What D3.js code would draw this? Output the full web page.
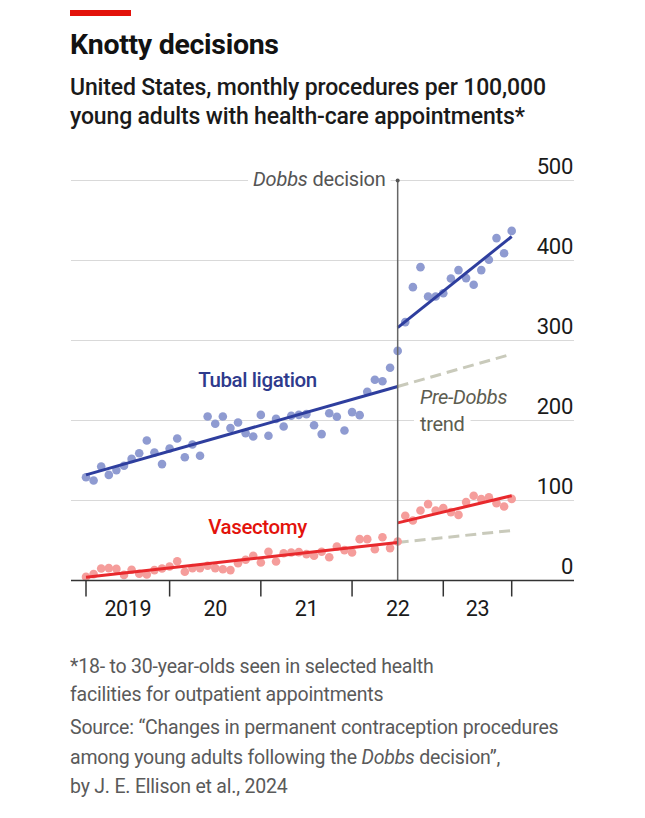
<!DOCTYPE html>
<html><head><meta charset="utf-8">
<script src="https://cdn.jsdelivr.net/npm/d3@7"></script>
<style>
html,body{margin:0;padding:0;background:#fff;}
svg text{font-family:Roboto,"Noto Sans",sans-serif;}
</style></head>
<body><div id="chart"></div>
<script>
const months = ["2019-01","2019-02","2019-03","2019-04","2019-05","2019-06","2019-07","2019-08","2019-09","2019-10","2019-11","2019-12",
"2020-01","2020-02","2020-03","2020-04","2020-05","2020-06","2020-07","2020-08","2020-09","2020-10","2020-11","2020-12",
"2021-01","2021-02","2021-03","2021-04","2021-05","2021-06","2021-07","2021-08","2021-09","2021-10","2021-11","2021-12",
"2022-01","2022-02","2022-03","2022-04","2022-05","2022-06","2022-07","2022-08","2022-09","2022-10","2022-11","2022-12",
"2023-01","2023-02","2023-03","2023-04","2023-05","2023-06","2023-07","2023-08","2023-09"];
const tubal = [129,125,142.5,132,138,143.5,152,159,175,160,145.5,165,177.5,154,170,156,205,196,205,190.5,197.5,184,180,207,181,202,192.5,206,207,208,194,183,209,204.6,187.5,210.5,206.7,236,251,249,266,287,
323,366.7,391.7,355,355,359,377.5,388,378,369.6,388,401,428,409,437];
const vasectomy = [4.5,8,15,15.5,14.5,7,13.5,8.5,7.5,13,15,17.5,24,11,15.5,15.5,18.4,15.5,14,13,21.7,26,30.9,22.5,36,23.7,34,35,35.5,33,31,36,29,42.5,38,35,51.7,51.7,39,54,40.5,48.7,
81,75,87.5,95.5,87.5,90.5,85.5,82,98,106,101.7,104,96.7,92.5,102];
// fitted trend end-points [start month, end month, start value, end value]
const tubalFitPre = ["2019-01","2022-06",132,242.5];
const tubalFitPost = ["2022-06","2023-09",316,430];
const tubalPreTrend = ["2022-06","2023-09",242.5,283];
const vasFitPre = ["2019-01","2022-06",4,47.5];
const vasFitPost = ["2022-06","2023-09",72,106];
const vasPreTrend = ["2022-06","2023-09",47.5,62.5];
const dobbsMonth = "2022-06";
const yTicks = [0,100,200,300,400,500];
const xTickMonths = ["2019-01","2019-12","2020-12","2021-12","2022-12","2023-09"];
const yearLabels = ["2019","20","21","22","23"];

const W=645,H=818;
const svg=d3.select("#chart").append("svg").attr("width",W).attr("height",H);
const x=d3.scalePoint().domain(months).range([86,511.7]);
const y=d3.scaleLinear().domain([0,500]).range([580.5,180.5]);
const gridL=71, gridR=574;

// header
svg.append("rect").attr("x",70).attr("y",10).attr("width",61).attr("height",6).attr("fill","#e3120b");
svg.append("text").attr("x",70).attr("y",54).attr("font-size",28.5).attr("font-weight",700).attr("fill","#121212")
  .attr("letter-spacing",-0.3).text("Knotty decisions");
const sub=["United States, monthly procedures per 100,000","young adults with health-care appointments*"];
sub.forEach((s,i)=>svg.append("text").attr("x",70).attr("y",95+i*29).attr("font-size",23).attr("font-weight",500)
  .attr("fill","#1a1a1a").attr("letter-spacing",-0.15).text(s));

// grid
const g=svg.append("g");
yTicks.filter(d=>d>0).forEach(d=>{
  g.append("line").attr("x1",gridL).attr("x2",gridR).attr("y1",y(d)).attr("y2",y(d))
   .attr("stroke","#d9d9d9").attr("stroke-width",1);
});
yTicks.forEach(d=>{
  g.append("text").attr("x",gridR-1).attr("y",y(d)-7).attr("text-anchor","end").attr("font-size",22)
   .attr("fill","#1a1a1a").attr("letter-spacing",-0.3).text(d);
});

// dobbs label with white background
const dg=svg.append("g");
const dbg=dg.append("rect").attr("fill","#fff");
const dl=dg.append("text").attr("x",x(dobbsMonth)-12).attr("y",y(500)+5.5).attr("text-anchor","end")
  .attr("font-size",20).attr("fill","#555").attr("letter-spacing",-0.2);
dl.append("tspan").attr("font-style","italic").text("Dobbs");
dl.append("tspan").text(" decision");
const bb=dl.node().getBBox();
dbg.attr("x",bb.x-5).attr("y",bb.y).attr("width",bb.width+10).attr("height",bb.height);

// pre-dobbs trend label
const pl=svg.append("g");
const pbg=pl.append("rect").attr("fill","#fff");
pl.append("text").attr("x",420).attr("y",404).attr("font-size",20).attr("font-style","italic").attr("fill","#5d5d50").attr("letter-spacing",-0.3).text("Pre-Dobbs");
const trt=pl.append("text").attr("x",420).attr("y",431).attr("font-size",20).attr("fill","#5d5d50").attr("letter-spacing",-0.3).text("trend");
const tb=trt.node().getBBox();
pbg.attr("x",tb.x-6).attr("y",tb.y).attr("width",tb.width+12).attr("height",tb.height);

// trend dashed
const seg=(arr)=>({x1:x(arr[0]),x2:x(arr[1]),y1:y(arr[2]),y2:y(arr[3])});
[tubalPreTrend,vasPreTrend].forEach(a=>{
  const s=seg(a);
  svg.append("line").attr("x1",s.x1).attr("x2",s.x2).attr("y1",s.y1).attr("y2",s.y2)
   .attr("stroke","#c9cabb").attr("stroke-width",3).attr("stroke-dasharray","11,6");
});

// dots
svg.append("g").selectAll("circle").data(months).join("circle")
  .attr("cx",d=>x(d)).attr("cy",(d,i)=>y(tubal[i])).attr("r",4.3).attr("fill","#8f9bd1");
svg.append("g").selectAll("circle").data(months).join("circle")
  .attr("cx",d=>x(d)).attr("cy",(d,i)=>y(vasectomy[i])).attr("r",4.3).attr("fill","#f59d9b");

// fits
[[tubalFitPre,"#2e3e9e"],[tubalFitPost,"#2e3e9e"],[vasFitPre,"#e8292d"],[vasFitPost,"#e8292d"]].forEach(([a,c])=>{
  const s=seg(a);
  svg.append("line").attr("x1",s.x1).attr("x2",s.x2).attr("y1",s.y1).attr("y2",s.y2)
   .attr("stroke",c).attr("stroke-width",3);
});

// dobbs line
svg.append("line").attr("x1",x(dobbsMonth)).attr("x2",x(dobbsMonth)).attr("y1",y(500)).attr("y2",y(0))
  .attr("stroke","#666").attr("stroke-width",1.5);
svg.append("circle").attr("cx",x(dobbsMonth)).attr("cy",y(500)).attr("r",2).attr("fill","#555");

// series labels
svg.append("text").attr("x",257.5).attr("y",387).attr("text-anchor","middle").attr("font-size",20.5).attr("font-weight",500)
  .attr("fill","#2e3a8c").attr("letter-spacing",-0.4).text("Tubal ligation");
svg.append("text").attr("x",257.5).attr("y",534).attr("text-anchor","middle").attr("font-size",20.5).attr("font-weight",500)
  .attr("fill","#e3120b").attr("letter-spacing",-0.4).text("Vasectomy");

// x axis
svg.append("line").attr("x1",gridL).attr("x2",gridR).attr("y1",y(0)).attr("y2",y(0)).attr("stroke","#333").attr("stroke-width",1.5);
xTickMonths.forEach(m=>{
  svg.append("line").attr("x1",x(m)).attr("x2",x(m)).attr("y1",y(0)).attr("y2",y(0)+16).attr("stroke","#333").attr("stroke-width",1.5);
});
yearLabels.forEach((t,i)=>{
  const cx=(x(xTickMonths[i])+x(xTickMonths[i+1]))/2;
  svg.append("text").attr("x",cx).attr("y",616).attr("text-anchor","middle").attr("font-size",21.5).attr("fill","#1a1a1a")
    .attr("letter-spacing",-0.4).text(t);
});

// footnote
const foot=[
 [["*18- to 30-year-olds seen in selected health",false]],
 [["facilities for outpatient appointments",false]],
 [["Source: \u201cChanges in permanent contraception procedures",false]],
 [["among young adults following the ",false],["Dobbs",true],[" decision\u201d,",false]],
 [["by J. E. Ellison et al., 2024",false]]
];
const footY=[673,701,734,764,793];
foot.forEach((line,i)=>{
  const t=svg.append("text").attr("x",70).attr("y",footY[i]).attr("font-size",19.5).attr("fill","#5a5a5a").attr("letter-spacing",-0.2);
  line.forEach(([s,it])=>t.append("tspan").attr("font-style",it?"italic":null).text(s));
});
</script></body></html>
